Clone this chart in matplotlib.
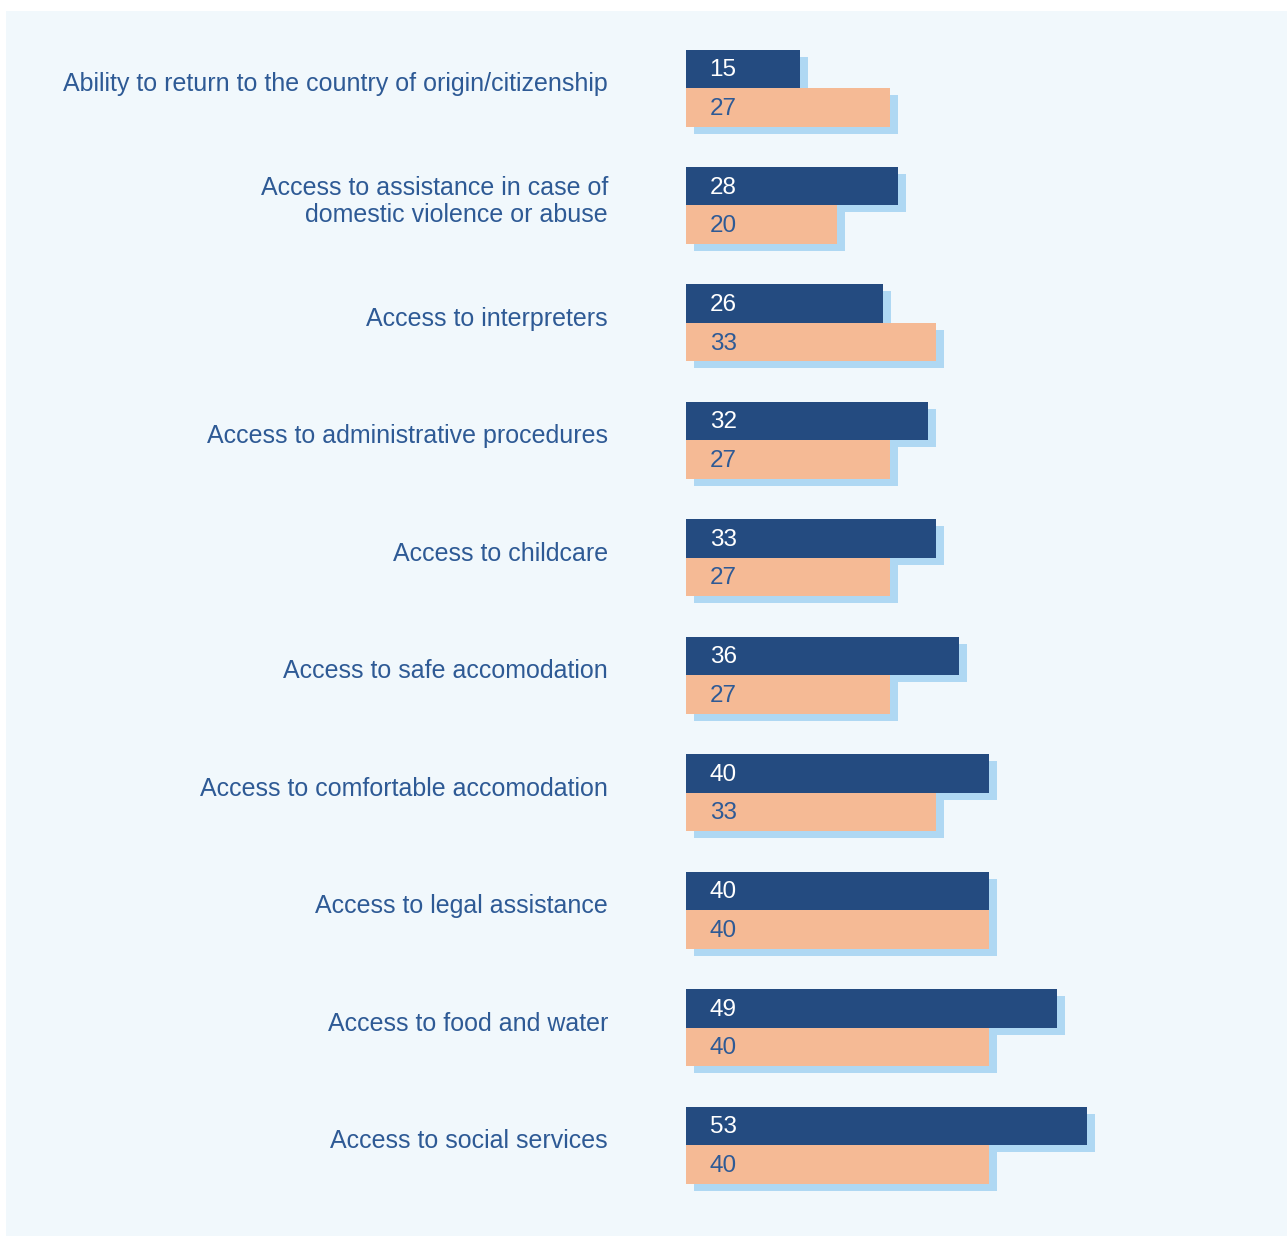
import matplotlib
matplotlib.use('Agg')
import matplotlib.pyplot as plt
import matplotlib.transforms as mtransforms
from matplotlib.patches import Rectangle
import numpy as np

plt.rcParams['font.family'] = ['Liberation Sans', 'DejaVu Sans']

# data
categories = [
    'Ability to return to the country of origin/citizenship',
    'Access to assistance in case of\ndomestic violence or abuse',
    'Access to interpreters',
    'Access to administrative procedures',
    'Access to childcare',
    'Access to safe accomodation',
    'Access to comfortable accomodation',
    'Access to legal assistance',
    'Access to food and water',
    'Access to social services',
]
series_a = [15, 28, 26, 32, 33, 36, 40, 40, 49, 53]
series_b = [27, 20, 33, 27, 27, 27, 33, 40, 40, 40]

DARK = '#244B80'
ORANGE = '#F5BA95'
SHADOW = '#AFD8F3'
PANEL = '#F1F8FC'
TEXT = '#2E5A95'

W, H = 1287, 1237
fig = plt.figure(figsize=(W / 100, H / 100), dpi=100, facecolor='white')

# light panel behind everything
fig.patches.append(Rectangle((6 / W, 1 - 1236 / H), 1 - 6 / W, (1236 - 11) / H,
                             transform=fig.transFigure, facecolor=PANEL,
                             edgecolor='none', zorder=-1))

# axes: left edge at bar start
ax = fig.add_axes([686 / W, 1 - 1236 / H, (W - 686) / W, (1236 - 11) / H])
ax.set_facecolor('none')

n = len(categories)
y = np.arange(n)
px_per_unit = 7.57
ax.set_xlim(0, (W - 686) / px_per_unit)
span = 1145 - 88
u = (n - 1) / span
ax.set_ylim(9 + (1236 - 1145) * u, -(88 - 11) * u)
h = 38.5 * u

shadow_tr = ax.transData + mtransforms.ScaledTranslation(8 / 100, -7 / 100, fig.dpi_scale_trans)

# shadows
ax.barh(y - h / 2, series_a, height=h, color=SHADOW, transform=shadow_tr, zorder=1)
ax.barh(y + h / 2, series_b, height=h, color=SHADOW, transform=shadow_tr, zorder=1)
# bars
ax.barh(y - h / 2, series_a, height=h, color=DARK, zorder=2)
ax.barh(y + h / 2, series_b, height=h, color=ORANGE, zorder=2)

for i in range(n):
    ax.annotate(str(series_a[i]), (0, y[i] - h / 2), xytext=(17, -1), textcoords='offset points',
                va='center', ha='left', color='white', fontsize=17.5, zorder=3)
    ax.annotate(str(series_b[i]), (0, y[i] + h / 2), xytext=(17, -1), textcoords='offset points',
                va='center', ha='left', color=TEXT, fontsize=17.5, zorder=3)

# category labels, right aligned left of the bars
label_tr = ax.get_yaxis_transform() + mtransforms.ScaledTranslation(-78 / 100, 4 / 100, fig.dpi_scale_trans)
for i, lab in enumerate(categories):
    ax.text(0, y[i], lab, transform=label_tr, ha='right', va='center',
            fontsize=18, color=TEXT, linespacing=1.15)

ax.set_xticks([])
ax.set_yticks([])
for s in ax.spines.values():
    s.set_visible(False)

fig.savefig('out.png', dpi=100, facecolor='white')
